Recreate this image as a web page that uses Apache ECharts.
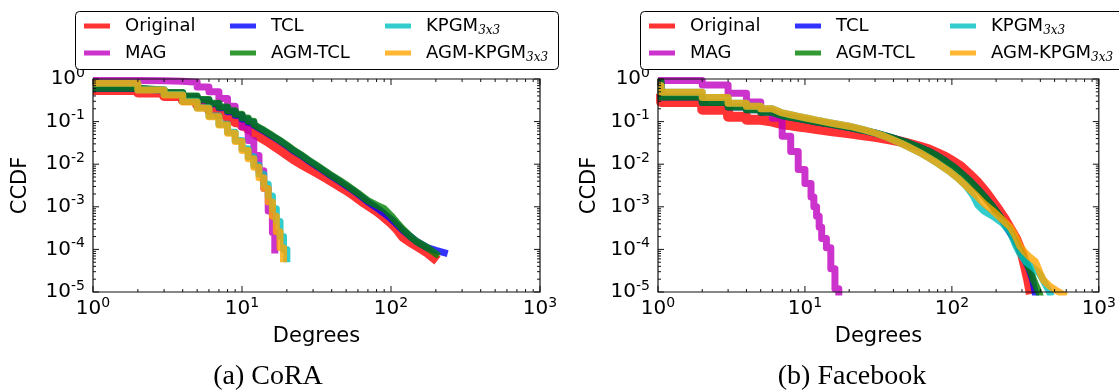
<!DOCTYPE html>
<html><head><meta charset="utf-8">
<script src="https://cdn.jsdelivr.net/npm/echarts@6/dist/echarts.min.js"></script>
<style>html,body{margin:0;padding:0;background:#fff}#c{width:1119px;height:391px}</style>
</head><body><div id="c"></div>
<script>
// ---- data: [degree, CCDF] ----
const seriesNames = ['Original','MAG','TCL','AGM-TCL','KPGM','AGM-KPGM'];
const xTickValues = [1,10,100,1000];
const yTickValues = [1e-5,1e-4,1e-3,1e-2,1e-1,1];
const captions = ['(a) CoRA','(b) Facebook'];

const coraOriginal = [[1,0.55],[2,0.48],[3,0.4],[4,0.32],[5,0.25],[6,0.19],[7,0.15],[8,0.12],[9,0.097],[10,0.08],[11,0.066],[12,0.055],[13,0.046],[14,0.039],[15,0.034],[16,0.029],[18,0.022],[20,0.017],[22,0.0135],[25,0.0102],[28,0.0082],[32,0.0063],[36,0.005],[40,0.004],[45,0.0031],[50,0.0025],[55,0.002],[60,0.0016],[65,0.0013],[70,0.0011],[80,0.0008],[90,0.00058],[100,0.00042],[110,0.0003],[120,0.0002],[135,0.00015],[150,0.00012],[175,0.000085],[205,0.000055]];
const coraMAG = [[1,0.92],[2,0.91],[3,0.89],[4,0.84],[5,0.65],[6,0.5],[7,0.35],[8,0.23],[9,0.14],[10,0.075],[11,0.036],[12,0.016],[13,0.007],[14,0.0027],[15,0.0008],[16,0.00025],[16.6,0.00008]];
const coraTCL = [[1,0.6],[2,0.54],[3,0.47],[4,0.39],[5,0.32],[6,0.26],[7,0.21],[8,0.17],[9,0.14],[10,0.115],[11,0.097],[12,0.082],[13,0.07],[14,0.06],[15,0.052],[16,0.045],[18,0.035],[20,0.027],[22,0.021],[25,0.016],[28,0.012],[32,0.0088],[36,0.0067],[40,0.0052],[45,0.004],[50,0.0031],[55,0.0025],[60,0.002],[65,0.0016],[70,0.0013],[80,0.00095],[90,0.0007],[100,0.00052],[110,0.00038],[120,0.00028],[135,0.0002],[150,0.00015],[175,0.00011],[200,0.000095],[240,0.00008]];
const coraAGMTCL = [[1,0.61],[2,0.55],[3,0.48],[4,0.4],[5,0.33],[6,0.27],[7,0.22],[8,0.18],[9,0.148],[10,0.122],[11,0.102],[12,0.086],[13,0.073],[14,0.063],[15,0.054],[16,0.047],[18,0.036],[20,0.028],[22,0.022],[25,0.0165],[28,0.0125],[32,0.0092],[36,0.007],[40,0.0054],[45,0.0042],[50,0.0033],[55,0.0026],[60,0.0021],[65,0.0017],[70,0.0014],[80,0.0011],[90,0.0009],[100,0.00062],[110,0.00042],[120,0.0003],[135,0.0002],[150,0.00015],[175,0.00011],[210,0.00007]];
const coraKPGM = [[1,0.8],[2,0.56],[3,0.43],[4,0.3],[5,0.21],[6,0.135],[7,0.087],[8,0.056],[9,0.036],[10,0.023],[11,0.015],[12,0.0095],[13,0.0058],[14,0.0034],[15,0.0018],[16,0.0009],[17,0.00045],[18,0.0002],[19,0.0001],[20,0.00005]];
const coraAGMKPGM = [[1,0.79],[2,0.55],[3,0.42],[4,0.29],[5,0.205],[6,0.13],[7,0.083],[8,0.053],[9,0.034],[10,0.021],[11,0.0135],[12,0.0085],[13,0.0048],[14,0.0027],[15,0.0013],[16,0.0006],[17,0.00026],[18,0.00011],[19,0.00005]];

const fbOriginal = [[1,0.45],[1.05,0.29],[2,0.19],[3,0.13],[4,0.11],[5,0.1],[6,0.093],[7,0.087],[8,0.082],[9,0.077],[10,0.073],[12,0.067],[15,0.06],[20,0.053],[25,0.048],[30,0.044],[35,0.04],[40,0.037],[45,0.034],[50,0.031],[60,0.026],[70,0.022],[80,0.018],[90,0.015],[100,0.012],[115,0.0088],[130,0.006],[150,0.0037],[170,0.0022],[190,0.0013],[210,0.0008],[230,0.0005],[250,0.0003],[275,0.00017],[300,0.00008],[315,0.00004],[330,0.00002],[345,0.000009]];
const fbMAG = [[1,0.92],[2,0.72],[3,0.46],[4,0.29],[5,0.18],[6,0.12],[7,0.045],[8,0.02],[9,0.0075],[10,0.0035],[11,0.0017],[11.5,0.001],[12,0.0006],[12.5,0.00033],[13,0.00018],[14,0.00011],[15,0.000035],[16,0.000012],[17,0.000006]];
const fbTCL = [[1,0.8],[1.05,0.38],[2,0.28],[3,0.22],[4,0.19],[5,0.165],[6,0.15],[7,0.137],[8,0.127],[9,0.118],[10,0.11],[12,0.098],[15,0.086],[20,0.072],[25,0.062],[30,0.054],[35,0.047],[40,0.041],[45,0.036],[50,0.032],[60,0.025],[70,0.02],[80,0.0155],[90,0.012],[100,0.0093],[115,0.0063],[130,0.0043],[150,0.0026],[170,0.0016],[190,0.001],[210,0.00063],[240,0.0003],[275,0.00014],[305,0.00007],[335,0.000035],[355,0.000019],[372,0.000008]];
const fbAGMTCL = [[1,0.85],[1.05,0.38],[2,0.28],[3,0.22],[4,0.19],[5,0.165],[6,0.15],[7,0.137],[8,0.127],[9,0.118],[10,0.11],[12,0.098],[15,0.086],[20,0.072],[25,0.062],[30,0.054],[35,0.047],[40,0.041],[45,0.036],[50,0.032],[60,0.025],[70,0.02],[80,0.0155],[90,0.012],[100,0.0093],[115,0.0063],[130,0.0043],[150,0.0026],[170,0.0016],[190,0.001],[210,0.00063],[245,0.0003],[275,0.00014],[305,0.00007],[340,0.000033],[365,0.000017],[390,0.00001],[405,0.000007]];
const fbKPGM = [[1,0.7],[1.05,0.49],[2,0.37],[3,0.27],[4,0.23],[5,0.2],[6,0.18],[7,0.16],[8,0.145],[9,0.133],[10,0.123],[12,0.108],[15,0.093],[20,0.078],[25,0.065],[30,0.054],[35,0.045],[40,0.037],[45,0.031],[50,0.026],[60,0.019],[70,0.014],[80,0.0105],[95,0.007],[110,0.0047],[125,0.0031],[140,0.0018],[150,0.0011],[165,0.0008],[190,0.0006],[220,0.00042],[250,0.00025],[270,0.00013],[290,0.00008],[320,0.00005],[355,0.000038],[395,0.000027],[425,0.000017],[455,0.000011],[475,0.000008]];
const fbAGMKPGM = [[1,0.7],[1.05,0.49],[2,0.37],[3,0.27],[4,0.23],[5,0.2],[6,0.18],[7,0.16],[8,0.145],[9,0.133],[10,0.123],[12,0.108],[15,0.093],[20,0.078],[25,0.065],[30,0.054],[35,0.045],[40,0.037],[45,0.031],[50,0.026],[60,0.019],[70,0.014],[80,0.0105],[95,0.007],[110,0.0047],[125,0.0031],[145,0.0019],[165,0.0012],[190,0.0008],[220,0.0005],[250,0.00033],[270,0.00021],[290,0.00012],[310,0.00009],[340,0.000065],[370,0.000052],[395,0.00003],[420,0.000019],[460,0.000014],[510,0.000011],[600,0.000008]];

const panels = [
  [coraOriginal, coraMAG, coraTCL, coraAGMTCL, coraKPGM, coraAGMKPGM],
  [fbOriginal, fbMAG, fbTCL, fbAGMTCL, fbKPGM, fbAGMKPGM]
];
// degree up to which each curve is drawn as a staircase
const stairUntil = [[12, 20, 12, 12, 20, 20], [6, 17, 6, 6, 6, 6]];

// ---- style ----
const colors = ['rgba(255,0,0,0.8)','rgba(191,0,191,0.8)','rgba(0,0,255,0.8)','rgba(0,128,0,0.8)','rgba(0,191,191,0.8)','rgba(255,165,0,0.8)'];
const widths = [10,7,7,7,7,7];
const grids = [{left:93, top:79, width:447, height:213},{left:658, top:79, width:445.5, height:213}];
const legendBoxLeft = [75, 640];
const FONT = 'DejaVu Sans';

function stairs(data, until){
  const out = [];
  data.forEach((p, i) => {
    out.push(p);
    const n = data[i+1];
    if (n && n[0] <= until) out.push([n[0], p[1]]);
  });
  return out;
}

const tickRich = {
  b:{fontFamily:FONT, fontSize:20, lineHeight:26, color:'#000'},
  s:{fontFamily:FONT, fontSize:14, lineHeight:14, verticalAlign:'top', color:'#000'}
};
const fmt = v => '{b|10}{s|' + Math.round(Math.log10(v)) + '}';

function tickItems(){
  const d = [];
  xTickValues.forEach(v => d.push([v, 1, 0]));
  for (let k = 0; k < 3; k++) for (let m = 2; m <= 9; m++) d.push([m*Math.pow(10,k), 1, 1]);
  yTickValues.forEach(v => d.push([1, v, 2]));
  for (let k = -5; k < 0; k++) for (let m = 2; m <= 9; m++) d.push([1, m*Math.pow(10,k), 3]);
  d.push([1, 1, 4]);
  return d;
}
function renderTicks(params, api){
  const kind = api.value(2);
  const st = {stroke:'#111', lineWidth:1, fill:null};
  const xMin = xTickValues[0], xMax = xTickValues[xTickValues.length-1];
  const yMin = yTickValues[0], yMax = yTickValues[yTickValues.length-1];
  if (kind === 4){
    const a = api.coord([xMin, yMax]), b = api.coord([xMax, yMin]);
    return {type:'rect', shape:{x:a[0], y:a[1], width:b[0]-a[0], height:b[1]-a[1]}, style:{stroke:'#111', lineWidth:1.2, fill:null}};
  }
  const L = (kind === 0 || kind === 2) ? 6 : 3;
  if (kind < 2){
    const v = api.value(0);
    const b = api.coord([v, yMin]), t = api.coord([v, yMax]);
    return {type:'group', children:[
      {type:'line', shape:{x1:b[0], y1:b[1], x2:b[0], y2:b[1]-L}, style:st},
      {type:'line', shape:{x1:t[0], y1:t[1], x2:t[0], y2:t[1]+L}, style:st}]};
  }
  const v = api.value(1);
  const l = api.coord([xMin, v]), r = api.coord([xMax, v]);
  return {type:'group', children:[
    {type:'line', shape:{x1:l[0], y1:l[1], x2:l[0]+L, y2:l[1]}, style:st},
    {type:'line', shape:{x1:r[0], y1:r[1], x2:r[0]-L, y2:r[1]}, style:st}]};
}

const series = [];
panels.forEach((list, p) => {
  list.forEach((data, i) => {
    series.push({type:'line', name:seriesNames[i], data:stairs(data, stairUntil[p][i]), xAxisIndex:p, yAxisIndex:p,
      symbol:'none', showSymbol:false, clip:true, z:2,
      lineStyle:{color:colors[i], width:widths[i], join:'round', cap:'butt'},
      itemStyle:{color:colors[i]}, emphasis:{disabled:true}});
  });
  series.push({type:'custom', xAxisIndex:p, yAxisIndex:p, data:tickItems(), renderItem:renderTicks, silent:true, z:3, encode:{x:0, y:1}});
});

const legendRich = {sub:{fontFamily:'DejaVu Serif', fontStyle:'italic', fontSize:12, lineHeight:14, verticalAlign:'bottom', color:'#000'}};
const legendCols = [[seriesNames[0], seriesNames[1]], [seriesNames[2], seriesNames[3]], [seriesNames[4], seriesNames[5]]];
const colOffsets = [9, 155, 310];
const legends = [];
legendBoxLeft.forEach(bx => {
  legendCols.forEach((names, c) => {
    legends.push({data:names, orient:'vertical', left:bx + colOffsets[c], top:15, itemGap:5,
      itemWidth:26, itemHeight:5, icon:'rect', padding:0, selectedMode:false, z:6,
      formatter: n => n.indexOf('KPGM') >= 0 ? n + '{sub|3x3}' : n,
      textStyle:{fontFamily:FONT, fontSize:18, color:'#000', lineHeight:22, padding:[0,0,0,10], rich:legendRich}});
  });
});

const option = {
  animation:false,
  backgroundColor:'#fff',
  grid: grids.map(g => Object.assign({containLabel:false}, g)),
  xAxis: grids.map((g, i) => ({type:'log', logBase:10, min:xTickValues[0], max:xTickValues[3], gridIndex:i,
    name:'Degrees', nameLocation:'middle', nameGap:34,
    nameTextStyle:{fontFamily:FONT, fontSize:21, color:'#000'},
    axisLine:{show:false}, axisTick:{show:false}, splitLine:{show:false}, minorTick:{show:false},
    axisLabel:{margin:4, formatter:fmt, rich:tickRich, color:'#000'}})),
  yAxis: grids.map((g, i) => ({type:'log', logBase:10, min:yTickValues[0], max:yTickValues[5], gridIndex:i,
    name:'CCDF', nameLocation:'middle', nameGap:[62, 58][i],
    nameTextStyle:{fontFamily:FONT, fontSize:21, color:'#000'},
    axisLine:{show:false}, axisTick:{show:false}, splitLine:{show:false},
    axisLabel:{margin:8, formatter:fmt, rich:tickRich, color:'#000'}})),
  legend: legends,
  graphic: [
    ...legendBoxLeft.map(bx => ({type:'rect', left:bx, top:11, z:5, shape:{width:483, height:58, r:4}, style:{fill:'#fff', stroke:'#000', lineWidth:1}})),
    ...captions.map((t, i) => ({type:'text', z:5, x:[268, 852][i], y:377, style:{text:t, font:'28px "Liberation Serif"', fill:'#000', textAlign:'center', textVerticalAlign:'middle'}}))
  ],
  series
};
const chart = echarts.init(document.getElementById('c'), null, {renderer:'canvas'});
chart.setOption(option);
</script></body></html>
